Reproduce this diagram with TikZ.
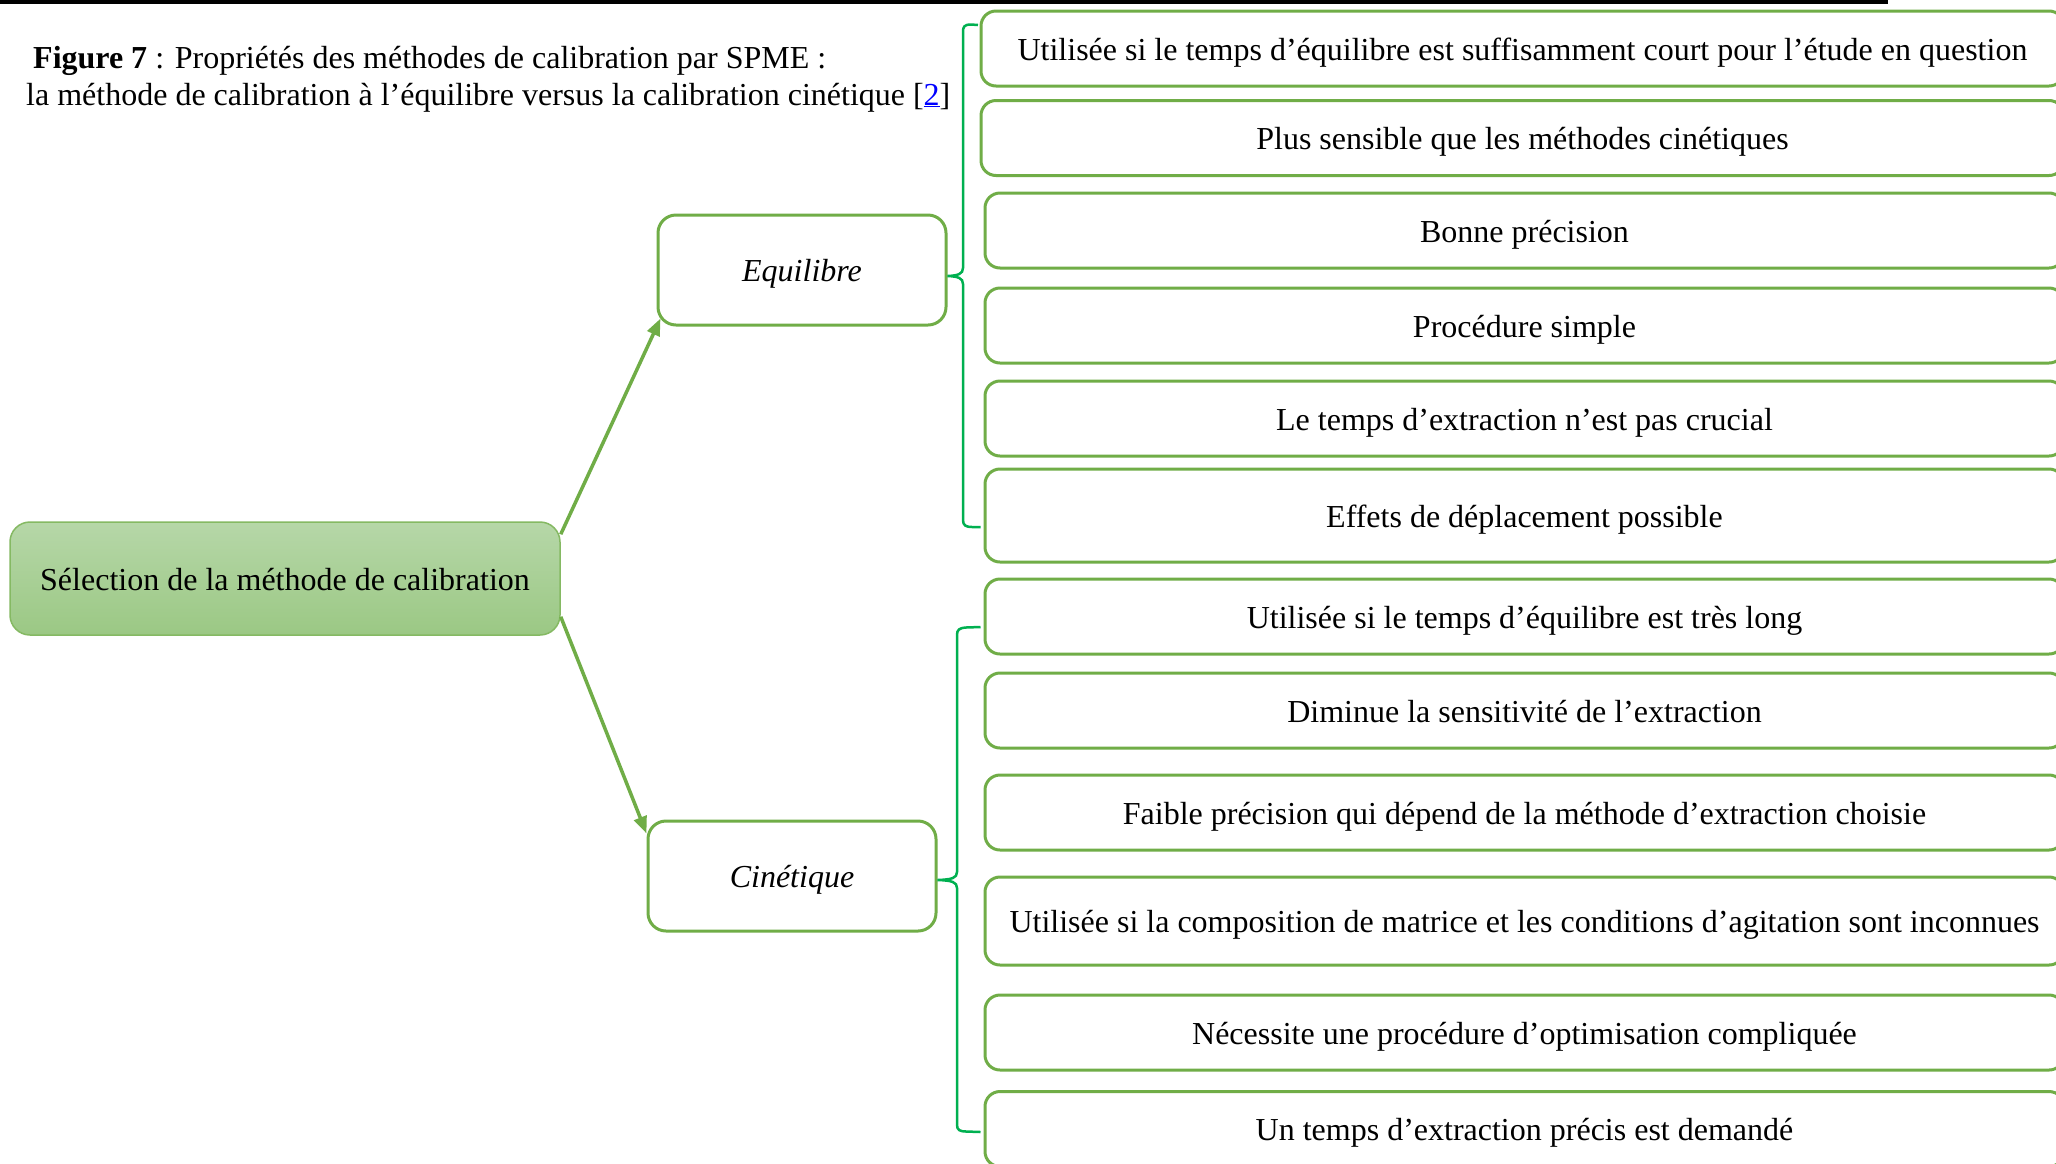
\documentclass[tikz,border=0pt]{standalone}
\usepackage{fontspec}
\setmainfont{Liberation Serif}
\usetikzlibrary{arrows.meta,calc}
\definecolor{boxgreen}{RGB}{112,173,71}
\definecolor{brkgreen}{RGB}{0,176,80}
\definecolor{roottop}{RGB}{182,215,168}
\definecolor{rootbot}{RGB}{155,200,132}
\definecolor{linkblue}{RGB}{0,0,255}
\begin{document}
\begin{tikzpicture}[x=1pt,y=-1pt,
  every node/.style={font=\fontsize{32}{37}\selectfont, text=black, inner sep=0pt},
  txtc/.style={text height=23pt, text depth=0pt},
  propbox/.style={txtc, draw=boxgreen, line width=3pt, rounded corners=15pt, fill=white, minimum height=75pt},
  catbox/.style={txtc, draw=boxgreen, line width=3pt, rounded corners=18pt, fill=white, minimum width=288pt, minimum height=110pt, font=\fontsize{32}{37}\selectfont\itshape},
  rootbox/.style={txtc, draw=boxgreen!85!white, line width=1.5pt, rounded corners=20pt, top color=roottop, bottom color=rootbot, minimum width=550pt, minimum height=113pt},
  arr/.style={draw=boxgreen, line width=3.5pt, -{Triangle[length=17pt,width=13pt]}},
  brk/.style={draw=brkgreen, line width=2.5pt}
]
\path[use as bounding box, clip] (0,0) rectangle (2056,1163);
\fill[white] (0,0) rectangle (2056,1163);

% top rule
\draw[line width=4pt] (0,1.5) -- (1888,1.5);

% caption
\node[anchor=base west] (cap1) at (33,68) {\textbf{Figure 7} : Propriétés des méthodes de calibration par SPME :};
\node[anchor=base west] (cap2) at (26,105) {la méthode de calibration à l’équilibre versus la calibration cinétique [\textcolor{linkblue}{\underline{2}}]};

% root and categories
\node[rootbox] (root) at (285,578.5) {Sélection de la méthode de calibration};
\node[catbox] (eq) at (802,270) {Equilibre};
\node[catbox] (ci) at (792,876) {Cinétique};

% property boxes (equilibrium)
\node[propbox, minimum width=1083pt] (e1) at (1522.5,48.5) {Utilisée si le temps d’équilibre est suffisamment court pour l’étude en question};
\node[propbox, minimum width=1083pt] (e2) at (1522.5,138) {Plus sensible que les méthodes cinétiques};
\node[propbox, minimum width=1079pt] (e3) at (1524.5,230.5) {Bonne précision};
\node[propbox, minimum width=1079pt] (e4) at (1524.5,325.5) {Procédure simple};
\node[propbox, minimum width=1079pt] (e5) at (1524.5,418.5) {Le temps d’extraction n’est pas crucial};
\node[propbox, minimum width=1079pt, minimum height=93pt] (e6) at (1524.5,515.5) {Effets de déplacement possible};

% property boxes (kinetic)
\node[propbox, minimum width=1079pt] (c1) at (1524.5,616.5) {Utilisée si le temps d’équilibre est très long};
\node[propbox, minimum width=1079pt] (c2) at (1524.5,710.5) {Diminue la sensitivité de l’extraction};
\node[propbox, minimum width=1079pt] (c3) at (1524.5,812.5) {Faible précision qui dépend de la méthode d’extraction choisie};
\node[propbox, minimum width=1079pt, minimum height=88pt] (c4) at (1524.5,921) {Utilisée si la composition de matrice et les conditions d’agitation sont inconnues};
\node[propbox, minimum width=1079pt] (c5) at (1524.5,1032.5) {Nécessite une procédure d’optimisation compliquée};
\node[propbox, minimum width=1079pt] (c6) at (1524.5,1129) {Un temps d’extraction précis est demandé};

% arrows
\draw[arr] ([yshift=-13pt]root.north east) -- ([xshift=4pt,yshift=8pt]eq.south west);
\draw[arr] ([yshift=19pt]root.south east) -- ([yshift=-14pt]ci.north west);

% brackets
\coordinate (eqtop) at ([xshift=-1.5pt]e1.west |- 0,25);
\coordinate (eqbot) at ([xshift=-3pt]e6.west |- 0,527);
\draw[brk] (eqtop) -- (971,24.5) .. controls (964,24.5) and (963,27) .. (963,32)
  -- (963,268) .. controls (963,274) and (958,275.5) .. ([yshift=-6pt]eq.east)
  .. controls (958,276.5) and (963,278) .. (963,284)
  -- (963,520) .. controls (963,525.5) and (966,527) .. (972,527) -- (eqbot);

\coordinate (citop) at ([xshift=-3pt]c1.west |- 0,627);
\coordinate (cibot) at ([xshift=-3pt]c6.west |- 0,1132);
\draw[brk] (citop) -- (966,627.5) .. controls (959,628) and (957,630) .. (957,635)
  -- (957,872) .. controls (957,878) and (952,879.5) .. ([yshift=-4pt]ci.east)
  .. controls (952,880.5) and (957,882) .. (957,888)
  -- (957,1125) .. controls (957,1130) and (960,1131.5) .. (966,1131.5) -- (cibot);
\end{tikzpicture}
\end{document}
